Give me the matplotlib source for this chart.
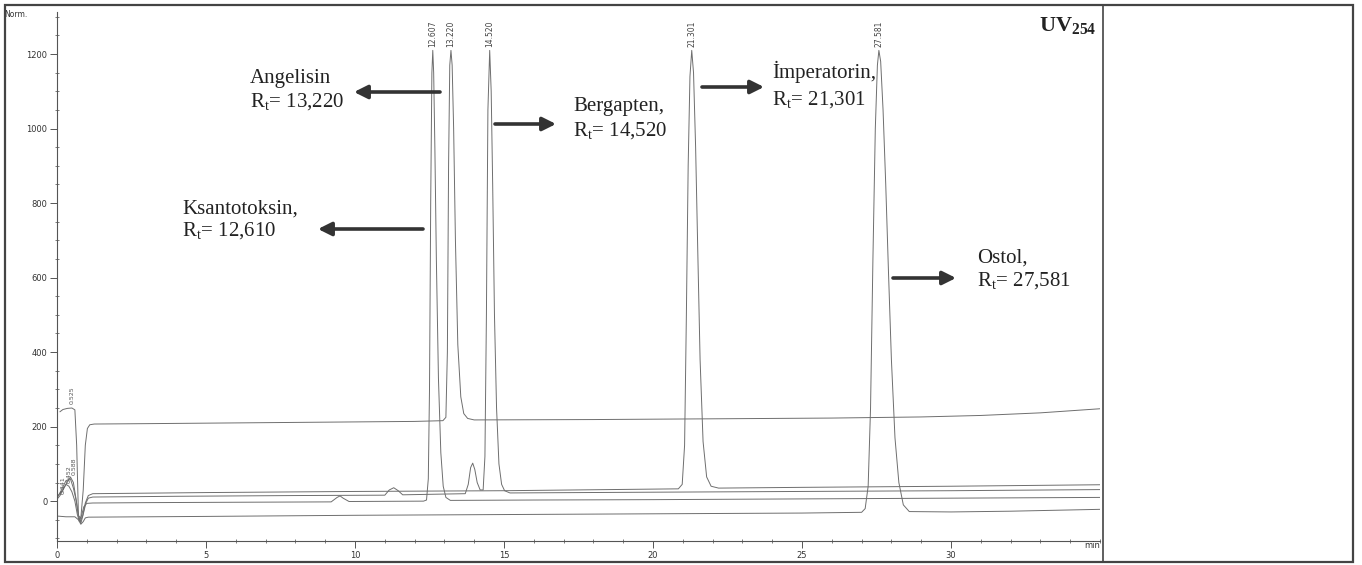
import matplotlib
matplotlib.use('Agg')
import matplotlib.pyplot as plt
from matplotlib.ticker import MultipleLocator, FixedLocator
from matplotlib.patches import Rectangle
from matplotlib.lines import Line2D

W, H = 1362, 565
plt.rcParams['mathtext.fontset'] = 'custom'
plt.rcParams['mathtext.rm'] = 'Liberation Serif'
plt.rcParams['mathtext.it'] = 'Liberation Serif:italic'
plt.rcParams['mathtext.bf'] = 'Liberation Serif:bold'

# ---------------- data ----------------
ksant_t = [0.0, 0.1, 0.2, 0.3, 0.4, 0.5, 0.6, 0.68, 0.75, 0.82, 0.9, 1.0, 1.2, 3.0, 6.0, 9.2, 9.4,
           9.5, 9.6, 9.8, 12.3, 12.4, 12.46, 12.5, 12.54, 12.58, 12.61, 12.64, 12.68, 12.73, 12.8,
           12.88, 12.96, 13.05, 13.2, 16, 20, 25, 30, 35]
ksant_v = [5, 15, 30, 45, 40, 25, 0, -35, -55, -40, -15, -6, -5, -4, -3, -2, 10,
           14, 8, -1, 0, 3, 60, 300, 800, 1150, 1210, 1150, 950, 650, 330,
           130, 40, 10, 2, 3, 4, 6, 8, 10]

angel_t = [0.1, 0.2, 0.35, 0.5, 0.6, 0.66, 0.72, 0.8, 0.88, 0.95, 1.02, 1.1, 1.25, 3, 6, 9, 12,
           12.95, 13.05, 13.1, 13.14, 13.18, 13.22, 13.26, 13.31, 13.37, 13.45, 13.55, 13.65,
           13.78, 14.0, 18, 22, 26, 29, 31, 33, 35]
angel_v = [240, 246, 249, 250, 245, 150, -40, -45, 30, 150, 195, 205, 207, 208, 210, 212, 214,
           216, 225, 400, 900, 1170, 1210, 1170, 1000, 700, 420, 280, 235,
           222, 218, 219, 221, 223, 226, 230, 237, 248]

berg_t = [0.0, 0.15, 0.3, 0.45, 0.55, 0.65, 0.72, 0.8, 0.88, 0.97, 1.05, 1.2, 4, 8, 11.0, 11.15,
          11.3, 11.45, 11.6, 13.7, 13.8, 13.88, 13.95, 14.02, 14.1, 14.2, 14.3, 14.36, 14.41,
          14.46, 14.52, 14.57, 14.62, 14.68, 14.75, 14.83, 14.92, 15.02, 15.2, 20, 25, 30, 35]
berg_v = [8, 30, 55, 60, 35, 0, -40, -60, -35, -5, 8, 11, 13, 15, 16, 30,
          36, 28, 17, 20, 45, 90, 102, 85, 50, 30, 30, 120, 500,
          1050, 1210, 1100, 850, 500, 250, 100, 45, 28, 22, 24, 26, 28, 31]

imper_t = [0.0, 0.15, 0.3, 0.45, 0.55, 0.63, 0.7, 0.78, 0.86, 0.95, 1.05, 1.2, 5, 10, 15, 20.85,
           20.98, 21.06, 21.12, 21.18, 21.24, 21.30, 21.36, 21.43, 21.5, 21.58, 21.68, 21.8,
           21.95, 22.2, 25, 30, 35]
imper_v = [12, 25, 45, 65, 50, 10, -30, -55, -40, -5, 15, 20, 23, 26, 28, 33,
           45, 150, 500, 900, 1140, 1210, 1150, 950, 680, 380, 160, 65,
           40, 35, 37, 40, 44]

ostol_t = [0.0, 0.3, 0.6, 0.72, 0.8, 0.88, 0.95, 1.05, 5, 10, 15, 20, 25, 27.0, 27.12, 27.22,
           27.3, 27.38, 27.46, 27.53, 27.58, 27.64, 27.72, 27.81, 27.9, 28.0, 28.12, 28.25,
           28.4, 28.6, 30, 32, 35]
ostol_v = [-40, -42, -42, -50, -62, -55, -45, -43, -41, -38, -36, -34, -32, -30, -20, 40,
           250, 650, 1000, 1170, 1210, 1180, 1050, 850, 620, 380, 170, 50,
           -10, -28, -29, -27, -22]

peak_rt = [12.607, 13.220, 14.520, 21.301, 27.581]
peak_labels = ['12.607', '13.220', '14.520', '21.301', '27.581']
early_rt = [0.50, 0.22, 0.40, 0.58]
early_top = [262, 20, 50, 70]
early_labels = ['0.525', '0.341', '0.452', '0.588']

names = ['Angelisin', 'Ksantotoksin,', 'Bergapten,', 'İmperatorin,', 'Ostol,']
rt_values = ['13,220', '12,610', '14,520', '21,301', '27,581']

x_ticks = [0, 5, 10, 15, 20, 25, 30]
y_ticks = [0, 200, 400, 600, 800, 1000, 1200]

# ---------------- figure ----------------
fig = plt.figure(figsize=(W / 100, H / 100), dpi=100)

def fx(px):
    return px / W

def fy(py):
    return 1 - py / H

ax = fig.add_axes([fx(57), fy(541), fx(1100) - fx(57), fy(12) - fy(541)])
trace_col = '#6e6e6e'
for t, v in [(ksant_t, ksant_v), (angel_t, angel_v), (berg_t, berg_v),
             (imper_t, imper_v), (ostol_t, ostol_v)]:
    ax.plot(t, v, color=trace_col, lw=0.7)

ax.set_xlim(0, 35)
ax.set_ylim(-107, 1313)
for s in ['top', 'right']:
    ax.spines[s].set_visible(False)
for s in ['left', 'bottom']:
    ax.spines[s].set_color('#555555')
    ax.spines[s].set_linewidth(0.8)

ax.xaxis.set_major_locator(FixedLocator(x_ticks))
ax.xaxis.set_minor_locator(MultipleLocator(1))
ax.yaxis.set_major_locator(FixedLocator(y_ticks))
ax.yaxis.set_minor_locator(MultipleLocator(50))
ax.tick_params(axis='both', which='major', direction='out', length=5, width=0.7,
               colors='#555555', labelsize=6, labelcolor='#333333', pad=2)
ax.tick_params(axis='both', which='minor', direction='inout', length=3, width=0.6,
               colors='#666666')
ax.text(34.75, -107, 'min', transform=ax.transData, fontsize=6, color='#333333',
        ha='center', va='top')
ax.text(-1.0, 1305, 'Norm.', fontsize=5.5, color='#333333', ha='right', va='center',
        clip_on=False)

# peak retention labels (rotated)
for rt, lab in zip(peak_rt, peak_labels):
    ax.text(rt, 1218, lab, rotation=90, fontsize=5.5, color='#444444',
            ha='center', va='bottom')
for rt, top, lab in zip(early_rt, early_top, early_labels):
    ax.text(rt, top, lab, rotation=90, fontsize=4.5, color='#555555',
            ha='center', va='bottom')

# ---------------- annotations ----------------
serif = 'Liberation Serif'
txt_pos = [(250, 78, 102), (182, 209, 231), (573, 107, 131), (772, 72, 100), (977, 258, 281)]
for name, rtv, (x0, y1, y2) in zip(names, rt_values, txt_pos):
    fig.text(fx(x0), fy(y1), name, family=serif, fontsize=15, color='#222222',
             ha='left', va='center')
    fig.text(fx(x0), fy(y2), r'R$_\mathregular{t}$= ' + rtv, family=serif, fontsize=15,
             color='#222222', ha='left', va='center')

arrows = [((440, 92), (354, 92)), ((423, 229), (318, 229)), ((495, 124), (556, 124)),
          ((702, 87), (764, 87)), ((893, 278), (956, 278))]
for (x0, y0), (x1, y1) in arrows:
    ax.annotate('', xy=(fx(x1), fy(y1)), xytext=(fx(x0), fy(y0)),
                xycoords='figure fraction', textcoords='figure fraction',
                arrowprops=dict(arrowstyle='-|>', lw=2.6, color='#333333',
                                mutation_scale=20, shrinkA=0, shrinkB=0))

fig.text(fx(1096), fy(26), r'$\mathbf{UV_{254}}$', fontsize=16, color='#222222',
         ha='right', va='center')

# ---------------- frame ----------------
fig.patches.append(Rectangle((fx(5), fy(562)), fx(1353) - fx(5), fy(5) - fy(562),
                             transform=fig.transFigure, fill=False, lw=1.6,
                             edgecolor='#444444'))
fig.lines.append(Line2D([fx(1103), fx(1103)], [fy(5), fy(562)], transform=fig.transFigure,
                        lw=1.2, color='#444444'))

fig.savefig('out.png', dpi=100)
